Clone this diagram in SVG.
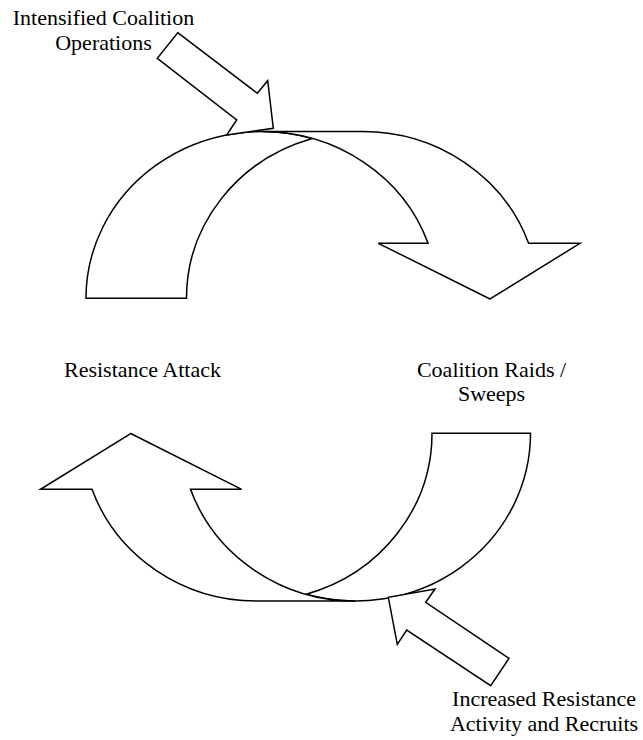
<svg xmlns="http://www.w3.org/2000/svg" width="643" height="740" viewBox="0 0 643 740">
<style>
.shape{fill:#ffffff;stroke:#000000;stroke-width:1.5;stroke-linejoin:miter}
.lbl{font-family:"Liberation Serif","Times New Roman",serif;font-size:22px;fill:#000000;text-anchor:middle}
</style>
<rect width="643" height="740" fill="#ffffff"/>
<g id="curved-arrow-top">
<path class="shape" d="M 312.25,138.5 A 176 166.7 0 0 0 186.5,298.3 L 86,298.3 A 176 166.7 0 0 1 312.25,138.5 Z"/>
<path class="shape" d="M 490,299 L 378.3,243.3 L 428.1,243.3 A 176 166.7 0 0 0 262,131.6 L 362.5,131.6 A 176 166.7 0 0 1 528.6,243.3 L 580,243.3 Z"/>
</g>
<g id="curved-arrow-bottom">
<path class="shape" d="M 306.25,594.2 A 175 167.7 0 0 0 432,433.3 L 530.5,433.3 A 175 167.7 0 0 1 306.25,594.2 Z"/>
<path class="shape" d="M 130.7,433.5 L 241.7,489.3 L 190.5,489.3 A 175 167.7 0 0 0 355.5,601 L 257,601 A 175 167.7 0 0 1 92,489.3 L 40.5,489.3 Z"/>
</g>
<g id="connectors">
<polygon id="arrow-intensified" class="shape" points="177.7,32.7 257.3,93.3 267.7,80.7 273.3,128.3 226.7,135 236.7,120 157.3,58.3"/>
<polygon id="arrow-increased" class="shape" points="509,658.3 425.7,602.3 435,589 388.3,597.3 397.3,644.3 406.7,630 490.7,685.7"/>
</g>
<g id="label-intensified">
<text class="lbl" x="103.5" y="25">Intensified Coalition</text>
<text class="lbl" x="103.5" y="49.5">Operations</text>
</g>
<g id="label-resistance-attack">
<text class="lbl" x="142.5" y="376.5">Resistance Attack</text>
</g>
<g id="label-coalition-raids">
<text class="lbl" x="491.5" y="376.5">Coalition Raids /</text>
<text class="lbl" x="491.5" y="401">Sweeps</text>
</g>
<g id="label-increased">
<text class="lbl" x="544" y="706">Increased Resistance</text>
<text class="lbl" x="544" y="730.5">Activity and Recruits</text>
</g>
</svg>
